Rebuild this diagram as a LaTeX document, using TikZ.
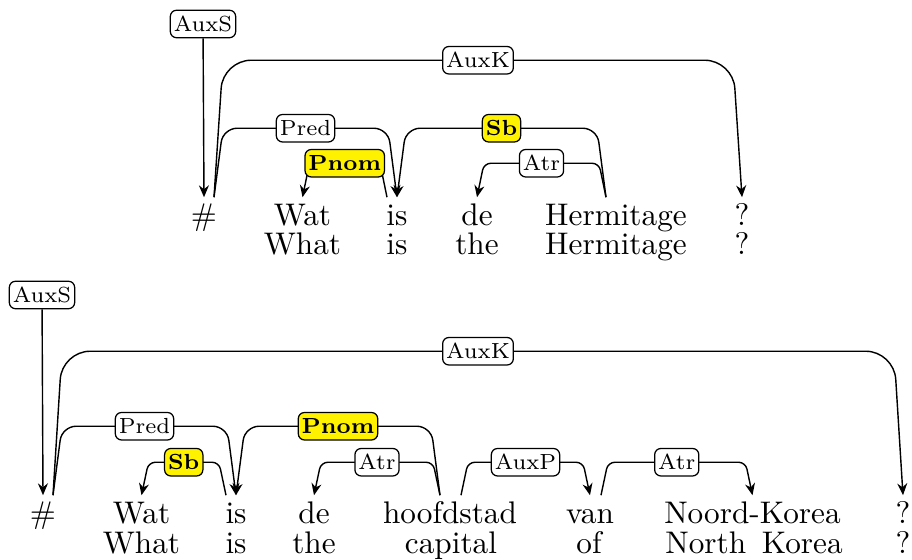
\documentclass[tikz,border=0pt]{standalone}
\usetikzlibrary{calc,arrows.meta}
\begin{document}
\begin{tikzpicture}[x=0.32pt,y=-0.32pt,
  word/.style={anchor=base,inner sep=0pt,text height=9pt,text depth=0pt,font=\fontsize{10}{12}\selectfont},
  lbl/.style={draw,rounded corners=2pt,fill=white,inner xsep=1.1pt,inner ysep=1.6pt,text height=5.1pt,text depth=0.5pt,font=\scriptsize,line width=0.4pt},
  hl/.style={lbl,fill=yellow,font=\scriptsize\bfseries},
  dep/.style={line width=0.45pt,-{Stealth[length=3.8pt,width=3.2pt]}},
  hi/.style={rounded corners=9pt},
  mid/.style={rounded corners=4.5pt},
  lo/.style={rounded corners=2.2pt}
]
\useasboundingbox (0,0) rectangle (912,560);

% ---------- sentence 1 ----------
\node[word] (a0) at (204,226) {\#};
\node[word] (a1) at (302.5,226) {Wat};
\node[word] (a2) at (397,226) {is};
\node[word] (a3) at (477,226) {de};
\node[word] (a4) at (616,226) {Hermitage};
\node[word] (a5) at (742,226) {?};
\node[word] (b1) at (302.5,255) {What};
\node[word] (b2) at (397,255) {is};
\node[word] (b3) at (477,255) {the};
\node[word] (b4) at (616,255) {Hermitage};
\node[word] (b5) at (742,255) {?};

\node[lbl] (auxs1) at (203,24) {AuxS};
\draw[dep] (auxs1) -- (a0.north);

\draw[dep,hi] ($(a0.north)+(10,0)$) -- ++(9,-137)
  -- node[lbl]{AuxK} ($(a5.north)+(-9,-137)$) -- (a5.north);
\draw[dep,mid] ($(a0.north)+(10,0)$) -- ++(9,-69)
  -- node[lbl]{Pred} ($(a2.north)+(-9,-69)$) -- (a2.north);
\draw[dep,mid] ($(a4.north)+(-10,0)$) -- ++(-9,-69)
  -- node[hl]{Sb} ($(a2.north)+(9,-69)$) -- (a2.north);
\draw[dep,lo] ($(a4.north)+(-10,0)$) -- ++(-7,-34)
  -- node[lbl]{Atr} ($(a3.north)+(7,-34)$) -- (a3.north);
\draw[dep,lo] ($(a2.north)+(-10,0)$) -- ++(-7,-34)
  -- node[hl]{Pnom} ($(a1.north)+(7,-34)$) -- (a1.north);

% ---------- sentence 2 ----------
\node[word] (c0) at (43,524) {\#};
\node[word] (c1) at (141.5,524) {Wat};
\node[word] (c2) at (236,524) {is};
\node[word] (c3) at (314,524) {de};
\node[word] (c4) at (450,524) {hoofdstad};
\node[word] (c5) at (590,524) {van};
\node[word] (c6) at (752.5,524) {Noord-Korea};
\node[word] (c7) at (903,524) {?};
\node[word] (d1) at (141.5,554) {What};
\node[word] (d2) at (236,554) {is};
\node[word] (d3) at (314,554) {the};
\node[word] (d4) at (451,554) {capital};
\node[word] (d5) at (589,554) {of};
\node[word] (d6) at (754,554) {North\hspace{5pt}Korea};
\node[word] (d7) at (903,554) {?};

\node[lbl] (auxs2) at (42,295) {AuxS};
\draw[dep] (auxs2) -- (c0.north);

\draw[dep,hi] ($(c0.north)+(10,0)$) -- ++(9,-144)
  -- node[lbl]{AuxK} ($(c7.north)+(-9,-144)$) -- (c7.north);
\draw[dep,mid] ($(c0.north)+(10,0)$) -- ++(9,-69)
  -- node[lbl]{Pred} ($(c2.north)+(-9,-69)$) -- (c2.north);
\draw[dep,lo] ($(c2.north)+(-10,0)$) -- ++(-7,-33)
  -- node[hl]{Sb} ($(c1.north)+(7,-33)$) -- (c1.north);
\draw[dep,mid] ($(c4.north)+(-10,0)$) -- ++(-9,-69)
  -- node[hl]{Pnom} ($(c2.north)+(9,-69)$) -- (c2.north);
\draw[dep,lo] ($(c4.north)+(-10,0)$) -- ++(-7,-33)
  -- node[lbl]{Atr} ($(c3.north)+(7,-33)$) -- (c3.north);
\draw[dep,lo] ($(c4.north)+(11,0)$) -- ++(7,-33)
  -- node[lbl]{AuxP} ($(c5.north)+(-7,-33)$) -- (c5.north);
\draw[dep,lo] ($(c5.north)+(11,0)$) -- ++(7,-33)
  -- node[lbl]{Atr} ($(c6.north)+(-7,-33)$) -- (c6.north);
\end{tikzpicture}
\end{document}
